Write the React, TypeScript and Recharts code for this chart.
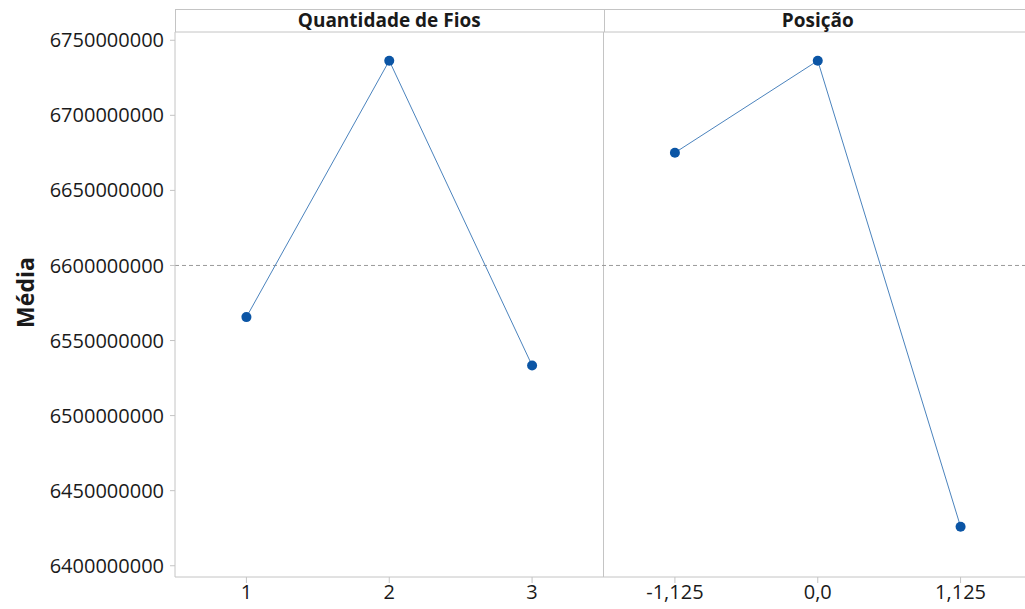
import { LineChart, Line, XAxis, YAxis, ReferenceLine } from 'recharts'

// main effects plot: two factors side by side on one x scale
const fiosLabels = ['1', '2', '3']
const fiosMeans = [6565600000, 6736400000, 6533400000]
const posLabels = ['-1,125', '0,0', '1,125']
const posMeans = [6675100000, 6736400000, 6426000000]
const panelTitles = ['Quantidade de Fios', 'Posição']
const yTicks = [6400000000, 6450000000, 6500000000, 6550000000, 6600000000, 6650000000, 6700000000, 6750000000]
const grandMean = 6600000000

const tickLabels = [...fiosLabels, ...posLabels]

const chartData = [
  ...fiosMeans.map((v, i) => ({ x: i, fios: v, pos: null })),
  ...posMeans.map((v, i) => ({ x: fiosLabels.length + i, fios: null, pos: v })),
]

const gray = '#c4c4c4'
const lineColor = '#4b83bd'
const dotColor = '#0b55a5'
const textColor = '#1a1a1a'

export default function App() {
  const dot = { r: 5, fill: dotColor, stroke: 'none' }

  return (
    <div
      style={{
        position: 'fixed',
        left: 0,
        top: 0,
        width: 1025,
        height: 609,
        overflow: 'hidden',
        background: '#fff',
        fontFamily: '"Open Sans", "Noto Sans", sans-serif',
      }}
    >
      {/* header strip border above the plot */}
      <div
        style={{
          position: 'absolute',
          left: 175,
          top: 9,
          width: 900,
          height: 23,
          borderTop: `1px solid ${gray}`,
          borderLeft: `1px solid ${gray}`,
          boxSizing: 'border-box',
        }}
      />
      <div style={{ position: 'absolute', left: 604, top: 9, width: 1, height: 23, background: gray }} />

      <LineChart
        width={1040}
        height={609}
        data={chartData}
        margin={{ top: 9, right: 8, bottom: 0, left: 0 }}
        style={{ position: 'absolute', left: 0, top: 0 }}
      >
        <XAxis
          dataKey="x"
          type="number"
          domain={[-0.5, 5.5]}
          ticks={[0, 1, 2, 3, 4, 5]}
          tickFormatter={(v) => tickLabels[v]}
          height={32}
          tickSize={6}
          tickMargin={2}
          stroke={gray}
          tick={{ fill: textColor, fontSize: 20 }}
          interval={0}
        />
        <XAxis
          xAxisId="top"
          orientation="top"
          dataKey="x"
          type="number"
          domain={[-0.5, 5.5]}
          ticks={[1, 4]}
          tickFormatter={(v) => (v === 1 ? panelTitles[0] : panelTitles[1])}
          height={23}
          tickLine={false}
          tickSize={0}
          tickMargin={5}
          stroke={gray}
          tick={{ fill: textColor, fontSize: 19, fontWeight: 700 }}
          interval={0}
        />
        <YAxis
          type="number"
          domain={[6392500000, 6755500000]}
          ticks={yTicks}
          tickFormatter={(v) => String(v)}
          width={175}
          tickSize={5}
          tickMargin={6}
          stroke={gray}
          tick={{ fill: textColor, fontSize: 20 }}
          interval={0}
          allowDataOverflow
          label={{
            value: 'Média',
            angle: -90,
            position: 'center',
            dx: -62,
            dy: -12,
            style: { fill: textColor, fontSize: 23, fontWeight: 700 },
          }}
        />
        <ReferenceLine x={2.5} stroke={gray} />
        <ReferenceLine y={grandMean} stroke="#9a9a9a" strokeDasharray="4 3" />
        <Line
          dataKey="fios"
          stroke={lineColor}
          strokeWidth={1}
          dot={dot}
          activeDot={false}
          isAnimationActive={false}
        />
        <Line
          dataKey="pos"
          stroke={lineColor}
          strokeWidth={1}
          dot={dot}
          activeDot={false}
          isAnimationActive={false}
        />
      </LineChart>
    </div>
  )
}
